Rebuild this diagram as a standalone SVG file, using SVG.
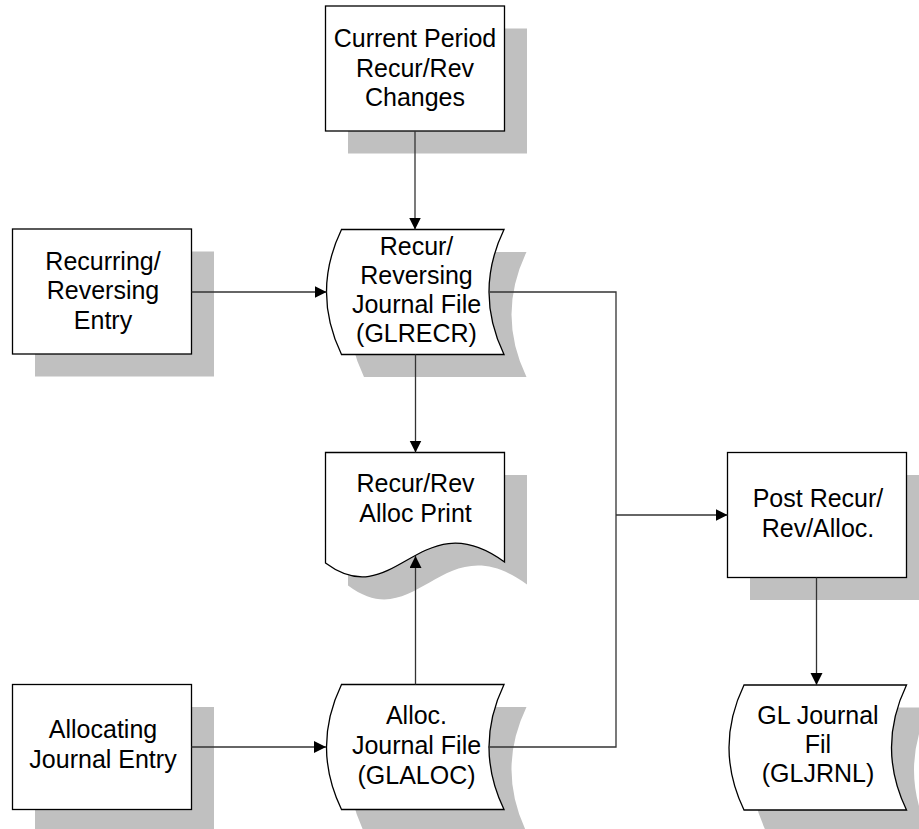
<svg xmlns="http://www.w3.org/2000/svg" width="919" height="829" viewBox="0 0 919 829">
<style>
.bg{fill:#ffffff}
.sh{fill:#c0c0c0;stroke:none}
.nd{fill:#ffffff;stroke:#000000;stroke-width:1.3}
.tx{font-family:"Liberation Sans",Arial,sans-serif;font-size:25px;fill:#000000;text-anchor:middle}
.cn{fill:none;stroke:#333333;stroke-width:1.3}
</style>
<defs>
<marker id="ah" markerUnits="userSpaceOnUse" markerWidth="13" markerHeight="13" refX="12" refY="6" orient="auto">
<path d="M0,0 L12,6 L0,12 Z" fill="#000000"/>
</marker>
</defs>
<rect class="bg" x="0" y="0" width="919" height="829"/>

<g id="current-period">
<rect class="sh" x="348" y="28.5" width="179" height="125"/>
<rect class="nd" x="325.5" y="6" width="179" height="125"/>
<text class="tx" x="415" y="47">Current Period</text>
<text class="tx" x="415" y="76.5">Recur/Rev</text>
<text class="tx" x="415" y="106">Changes</text>
</g>

<g id="recurring-entry">
<rect class="sh" x="35" y="251.5" width="179" height="125"/>
<rect class="nd" x="12.5" y="229" width="179" height="125"/>
<text class="tx" x="103" y="269.5">Recurring/</text>
<text class="tx" x="103" y="299">Reversing</text>
<text class="tx" x="103" y="328.5">Entry</text>
</g>

<g id="glrecr">
<path class="sh" d="M364,252 L526.5,252 Q496.5,314.5 526.5,377 L364,377 Q334,314.5 364,252 Z"/>
<path class="nd" d="M341.5,229.5 L504,229.5 Q474,292 504,354.5 L341.5,354.5 Q311.5,292 341.5,229.5 Z"/>
<text class="tx" x="416.5" y="255">Recur/</text>
<text class="tx" x="416.5" y="284">Reversing</text>
<text class="tx" x="416.5" y="313">Journal File</text>
<text class="tx" x="416.5" y="342">(GLRECR)</text>
</g>

<g id="alloc-print">
<path class="sh" d="M348,475 L527,475 L527,584.5 C442.5,522.5 417.5,637.5 348,585.5 Z"/>
<path class="nd" d="M325.5,452.5 L504.5,452.5 L504.5,562 C420,500 395,615 325.5,563 Z"/>
<text class="tx" x="415.5" y="491.5">Recur/Rev</text>
<text class="tx" x="415.5" y="521.5">Alloc Print</text>
</g>

<g id="allocating-entry">
<rect class="sh" x="35" y="707" width="179" height="125"/>
<rect class="nd" x="12.5" y="684.5" width="179" height="125"/>
<text class="tx" x="103" y="738">Allocating</text>
<text class="tx" x="103" y="768">Journal Entry</text>
</g>

<g id="glaloc">
<path class="sh" d="M364,707 L526.5,707 Q496.5,769.5 526.5,832 L364,832 Q334,769.5 364,707 Z"/>
<path class="nd" d="M341.5,684.5 L504,684.5 Q474,747 504,809.5 L341.5,809.5 Q311.5,747 341.5,684.5 Z"/>
<text class="tx" x="416.5" y="724">Alloc.</text>
<text class="tx" x="416.5" y="754">Journal File</text>
<text class="tx" x="416.5" y="783.5">(GLALOC)</text>
</g>

<g id="post">
<rect class="sh" x="750" y="475" width="179" height="125"/>
<rect class="nd" x="727.5" y="452.5" width="179" height="125"/>
<text class="tx" x="818" y="506.5">Post Recur/</text>
<text class="tx" x="818" y="536.5">Rev/Alloc.</text>
</g>

<g id="gljrnl">
<path class="sh" d="M766.5,707.5 L929,707.5 Q899,770 929,832.5 L766.5,832.5 Q736.5,770 766.5,707.5 Z"/>
<path class="nd" d="M744,685 L906.5,685 Q876.5,747.5 906.5,810 L744,810 Q714,747.5 744,685 Z"/>
<text class="tx" x="818" y="723.5">GL Journal</text>
<text class="tx" x="818" y="753">Fil</text>
<text class="tx" x="818" y="782">(GLJRNL)</text>
</g>

<g id="connectors">
<path class="cn" d="M415,131 L415,229.5" marker-end="url(#ah)"/>
<path class="cn" d="M191.5,292 L326.5,292" marker-end="url(#ah)"/>
<path class="cn" d="M415.5,354.5 L415.5,452.5" marker-end="url(#ah)"/>
<path class="cn" d="M415.5,684.5 L415.5,556" marker-end="url(#ah)"/>
<path class="cn" d="M191.5,747 L326,747" marker-end="url(#ah)"/>
<path class="cn" d="M489.5,292 L616,292 L616,747 L488.5,747"/>
<path class="cn" d="M616,515 L727.5,515" marker-end="url(#ah)"/>
<path class="cn" d="M816.5,577.5 L816.5,685" marker-end="url(#ah)"/>
</g>
</svg>
